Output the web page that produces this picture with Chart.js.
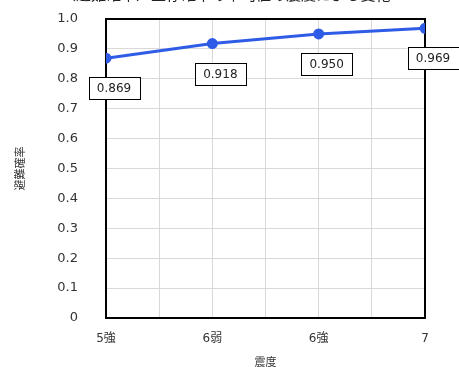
<!doctype html>
<html lang="ja">
  <head>
    <meta charset="UTF-8" />
    <title>避難確率</title>
    <script src="https://cdn.jsdelivr.net/npm/chart.js"></script>
    <style>
      body {
        margin: 0;
        background: #ffffff;
        overflow: hidden;
      }
      #wrap {
        position: relative;
        width: 459px;
        height: 367px;
      }
      #title {
        position: absolute;
        top: -17px;
        left: 0;
        width: 459px;
        text-align: center;
        font: 15px "Noto Sans CJK JP", sans-serif;
        color: #222;
        white-space: nowrap;
      }
    </style>
  </head>
  <body>
    <div id="wrap">
      <canvas id="chart" width="459" height="367"></canvas>
      <div id="title">・（避難確率）生存確率の平均値の震度による変化・</div>
    </div>

    <script>
      // データ
      const categories = ["5強", "6弱", "6強", "7"];
      const probability = [0.869, 0.918, 0.95, 0.969];
      const valueLabels = ["0.869", "0.918", "0.950", "0.969"];
      const yTicks = [0, 0.1, 0.2, 0.3, 0.4, 0.5, 0.6, 0.7, 0.8, 0.9, 1.0];

      const fontFamily = "'DejaVu Sans', 'Noto Sans CJK JP', sans-serif";

      // 枠線 (上・右も黒)
      const frame = {
        id: "frame",
        beforeDatasetsDraw(chart) {
          const a = chart.chartArea;
          const c = chart.ctx;
          c.save();
          c.strokeStyle = "#000";
          c.lineWidth = 2;
          c.strokeRect(a.left, a.top, a.right - a.left, a.bottom - a.top);
          c.restore();
        },
      };

      // 値ラベル (白い箱)
      const boxLabels = {
        id: "boxLabels",
        afterDatasetsDraw(chart) {
          const c = chart.ctx;
          const meta = chart.getDatasetMeta(0);
          c.save();
          c.font = "12px " + fontFamily;
          c.textAlign = "center";
          c.textBaseline = "middle";
          meta.data.forEach((pt, i) => {
            const cx = pt.x + 8;
            const cy = pt.y + 30;
            const w = 51, h = 22;
            c.fillStyle = "#fff";
            c.fillRect(cx - w / 2, cy - h / 2, w, h);
            c.strokeStyle = "#000";
            c.lineWidth = 1;
            c.strokeRect(Math.round(cx - w / 2) + 0.5, Math.round(cy - h / 2) + 0.5, w, h);
            c.fillStyle = "#222";
            c.fillText(valueLabels[i], cx, cy + 1);
          });
          c.restore();
        },
      };

      new Chart(document.getElementById("chart"), {
        type: "line",
        data: {
          datasets: [
            {
              data: probability.map((v, i) => ({ x: i, y: v })),
              borderColor: "#2f5ce6",
              backgroundColor: "#2f5ce6",
              borderWidth: 3,
              pointRadius: 4,
              pointHoverRadius: 4,
              tension: 0,
            },
          ],
        },
        options: {
          responsive: false,
          animation: false,
          layout: { padding: { top: 19, right: 34, left: 0, bottom: 0 } },
          plugins: {
            legend: { display: false },
            tooltip: { enabled: false },
          },
          scales: {
            x: {
              type: "linear",
              min: 0,
              max: categories.length - 1,
              afterBuildTicks(s) {
                s.ticks = [];
                for (let v = 0; v <= categories.length - 1; v += 0.5) s.ticks.push({ value: v });
              },
              afterFit(s) {
                s.height = 49;
                s.paddingLeft = 0;
                s.paddingRight = 0;
              },
              ticks: {
                padding: 14,
                autoSkip: false,
                maxRotation: 0,
                color: "#333",
                font: { family: fontFamily, size: 12 },
                callback: (v) => (Number.isInteger(v) ? categories[v] : ""),
              },
              grid: { color: "#d9d9d9", drawTicks: false },
              border: { color: "#000", width: 2 },
              title: {
                display: true,
                text: "震度",
                color: "#333",
                font: { family: fontFamily, size: 11 },
                padding: { top: 10, bottom: -3 },
              },
            },
            y: {
              min: 0,
              max: 1,
              afterBuildTicks(s) {
                s.ticks = yTicks.map((v) => ({ value: v }));
              },
              afterFit(s) {
                s.width = 106;
                s.paddingTop = 0;
                s.paddingBottom = 0;
              },
              ticks: {
                padding: 28,
                color: "#333",
                font: { family: fontFamily, size: 13 },
                callback: (v) => (v === 0 ? "0" : v.toFixed(1)),
              },
              grid: { color: "#d9d9d9", drawTicks: false },
              border: { color: "#000", width: 2 },
              title: {
                display: true,
                text: "避難確率",
                color: "#333",
                font: { family: fontFamily, size: 11 },
                padding: { top: 15, bottom: 0 },
              },
            },
          },
        },
        plugins: [frame, boxLabels],
      });
    </script>
  </body>
</html>
